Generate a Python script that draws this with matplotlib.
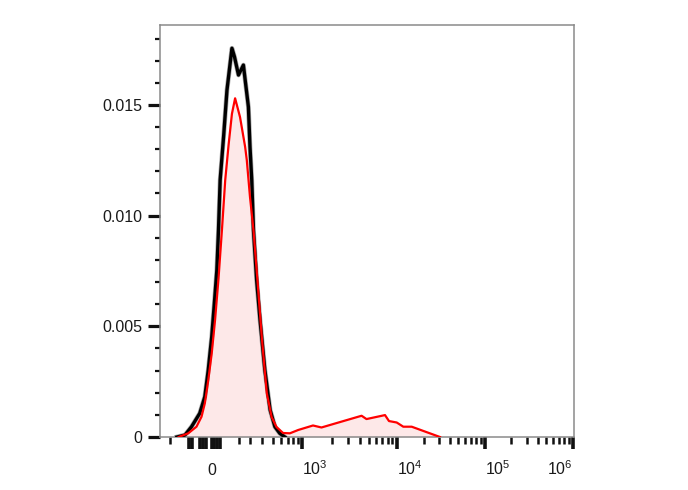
import numpy as np
import matplotlib.pyplot as plt

plt.rcParams['font.family'] = ['Liberation Sans', 'DejaVu Sans']
plt.rcParams['mathtext.fontset'] = 'custom'
plt.rcParams['mathtext.rm'] = 'Liberation Sans'
plt.rcParams['mathtext.it'] = 'Liberation Sans:italic'

# histogram traces (raw fluorescence, density)
black_x = [-557, -200, -150, -89, -52, -27, -2, 17, 35, 47, 59, 85, 109, 146,
           165, 196, 239, 255, 285, 300, 314, 328, 354, 383, 425, 473, 523,
           585, 655]
black_y = [0, 0.00009, 0.000465, 0.00107, 0.00182, 0.00303, 0.00453, 0.00604,
           0.00754, 0.00935, 0.01161, 0.01364, 0.01567, 0.01756, 0.01718,
           0.01635, 0.0168, 0.01613, 0.01491, 0.0131, 0.01161, 0.00935,
           0.00709, 0.00528, 0.00303, 0.00122, 0.000465, 0.000167, 0]

red_x = [-467, -175, -113, -76, -52, -27, -2, 22, 47, 72, 96, 121, 146, 170,
         209, 255, 270, 300, 328, 361, 398, 442, 487, 543, 630, 736, 910,
         1298, 1578, 4169, 4701, 7467, 8247, 10000, 11825, 14635, 30760]
red_y = [0, 0.000167, 0.000465, 0.000917, 0.00152, 0.00257, 0.00378, 0.00528,
         0.00715, 0.00935, 0.0116, 0.0132, 0.0146, 0.0153, 0.01445, 0.0131,
         0.01251, 0.01084, 0.00935, 0.00709, 0.00452, 0.00199, 0.000903,
         0.000452, 0.00018, 0.000167, 0.000316, 0.00052, 0.00043, 0.00096,
         0.00081, 0.00099, 0.00072, 0.000655, 0.000465, 0.000465, 0]

# axis ticks
x_major = [0, 1e3, 1e4, 1e5, 1e6]
x_major_labels = ['0', r'$\mathregular{10^3}$', r'$\mathregular{10^4}$',
                  r'$\mathregular{10^5}$', r'$\mathregular{10^6}$']
x_cluster = [-167, -144, -85, -63, -44, 11, 33, 59]
x_minor = ([-1000] + [200, 300, 400, 500, 600, 700, 800, 900]
           + [k * 1e3 for k in range(2, 10)]
           + [k * 1e4 for k in range(2, 10)]
           + [k * 1e5 for k in range(2, 10)])
y_major = [0, 0.005, 0.010, 0.015]
y_major_labels = ['0', '0.005', '0.010', '0.015']
y_minor = [k * 0.001 for k in range(1, 19) if k % 5 != 0]

# biexponential-like display scale (raw value -> screen position)
SCALE_RAW = np.array([-1e5, -1000, -200, 0, 200, 300, 400, 500, 700, 1000,
                      2000, 5000, 1e4, 2e4, 5e4, 1e5, 1e6, 1e7])
SCALE_POS = np.array([100, 170, 185, 212, 239, 250, 262, 273, 288, 302,
                      332, 369, 396.7, 424, 458, 485, 572.7, 661])
SCALE_U = np.arcsinh(SCALE_RAW / 500.0)


def fwd(x):
    return np.interp(np.arcsinh(np.asarray(x, dtype=float) / 500.0), SCALE_U, SCALE_POS)


def inv(p):
    return 500.0 * np.sinh(np.interp(np.asarray(p, dtype=float), SCALE_POS, SCALE_U))


fig = plt.figure(figsize=(6.88, 4.9), dpi=100)
ax = fig.add_axes([160 / 688, 1 - 437 / 490, 414 / 688, 412 / 490])
ax.set_xscale('function', functions=(fwd, inv))
ax.set_xlim(float(inv(160)), float(inv(574)))
ax.set_ylim(0, 0.01861)

ax.fill_between(red_x, red_y, 0, color='#fde8e8', lw=0, zorder=1)
ax.plot(black_x, black_y, color='#777777', lw=3.4, alpha=0.6, zorder=2)
ax.plot(black_x, black_y, color='black', lw=2.4, zorder=3)
ax.plot(red_x, red_y, color='#ff0000', lw=1.6, zorder=4)

ax.set_xticks(x_major + x_cluster)
ax.set_xticklabels(x_major_labels + [''] * len(x_cluster))
ax.set_xticks(x_minor, minor=True)
ax.set_yticks(y_major)
ax.set_yticklabels(y_major_labels)
ax.set_yticks(y_minor, minor=True)

ax.tick_params(axis='both', which='both', direction='out', color='#111111',
               labelcolor='#1a1a1a', labelsize=11.5)
ax.tick_params(axis='y', which='major', length=8.5, width=2.3, pad=4.5)
ax.tick_params(axis='y', which='minor', length=3.8, width=1.6)
ax.tick_params(axis='x', which='major', length=8.5, width=2.6, pad=19)
ax.tick_params(axis='x', which='minor', length=5, width=1.8)

for lbl, txt in zip(ax.get_xticklabels(), x_major_labels + [''] * len(x_cluster)):
    lbl.set_verticalalignment('baseline')
    if txt == '0':
        lbl.set_horizontalalignment('center')
    elif '10^6' in txt:
        lbl.set_horizontalalignment('right')
    else:
        lbl.set_horizontalalignment('left')

for s in ax.spines.values():
    s.set_color('#8a8a8a')
    s.set_linewidth(1.1)

plt.savefig('out.png', dpi=100)
